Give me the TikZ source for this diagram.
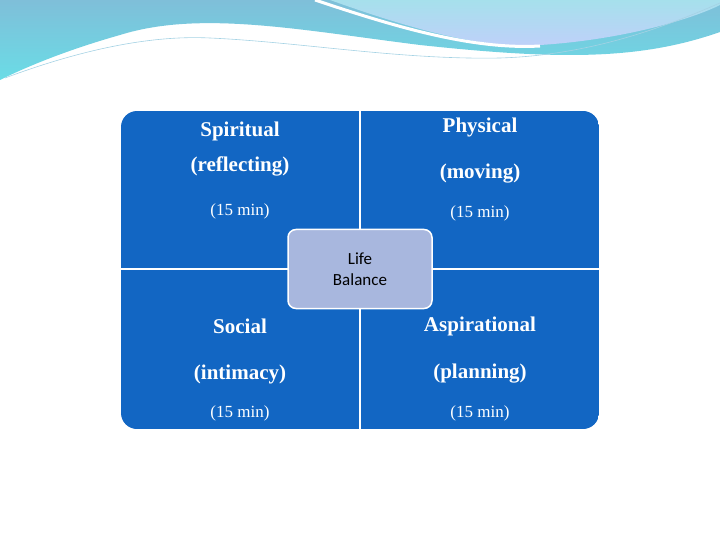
\documentclass[tikz,border=0pt]{standalone}
\usepackage{fontspec}
\setmainfont{Liberation Serif}
\newfontfamily\calibri{Carlito}
\definecolor{tileblue}{HTML}{1266C3}
\definecolor{hubfill}{HTML}{A8B7DE}
\definecolor{wavedark}{HTML}{7FBFD9}
\definecolor{wavecyan}{HTML}{6ADCE6}
\definecolor{wavelight}{HTML}{A6E0EC}
\begin{document}
\begin{tikzpicture}[x=1pt,y=-1pt,
    quad/.style={fill=tileblue,draw=white,line width=1pt},
    title/.style={text=white,font=\bfseries\fontsize{21}{24}\selectfont,align=center},
    sub/.style={text=white,font=\fontsize{17}{20}\selectfont}]
  \useasboundingbox (0,0) rectangle (720,540);
  % top wave
  \shade[top color=wavedark,bottom color=wavecyan]
    (0,0) -- (720,0) -- (720,32) .. controls (640,60) and (560,60) .. (420,45)
    .. controls (300,30) and (200,10) .. (120,35) .. controls (60,52) and (20,70) .. (0,80) -- cycle;
  \shade[top color=wavelight,bottom color=wavelight!60!blue!40] (330,0) .. controls (400,25) and (480,50) .. (540,45)
    .. controls (620,40) and (690,20) .. (720,5) -- (720,0) -- cycle;
  \draw[white,line width=3pt] (315,0) .. controls (390,25) and (470,50) .. (540,46);
  \draw[wavedark!70!white,line width=0.6pt] (5,78) .. controls (80,50) and (150,35) .. (210,38)
    .. controls (300,42) and (400,60) .. (500,58) .. controls (600,55) and (680,20) .. (720,3);
  % quadrants
  \begin{scope}
    \clip[rounded corners=16pt] (121,111) rectangle (599,429);
    \fill[tileblue] (121,111) rectangle (599,429);
    \draw[white,line width=1.5pt] (360,111) -- (360,429) (121,269) -- (599,269);
  \end{scope}
  \node[title] (spir) at (240,131) {Spiritual};
  \node[title] (refl) at (240,166) {(reflecting)};
  \node[sub] (t1) at (240,211) {(15 min)};
  \node[title] (phys) at (480,127) {Physical};
  \node[title] (move) at (480,174) {(moving)};
  \node[sub] (t2) at (480,213) {(15 min)};
  \node[title] (soc) at (240,326) {Social};
  \node[title] (inti) at (240,374) {(intimacy)};
  \node[sub] (t3) at (240,413) {(15 min)};
  \node[title] (asp) at (480,326) {Aspirational};
  \node[title] (plan) at (480,374) {(planning)};
  \node[sub] (t4) at (480,413) {(15 min)};
  % hub
  \node[fill=hubfill,draw=white,line width=1.5pt,rounded corners=8pt,
        minimum width=144pt,minimum height=79pt,align=center,
        font=\calibri\fontsize{17}{21}\selectfont] (hub) at (360,269) {Life\\Balance};
\end{tikzpicture}
\end{document}
